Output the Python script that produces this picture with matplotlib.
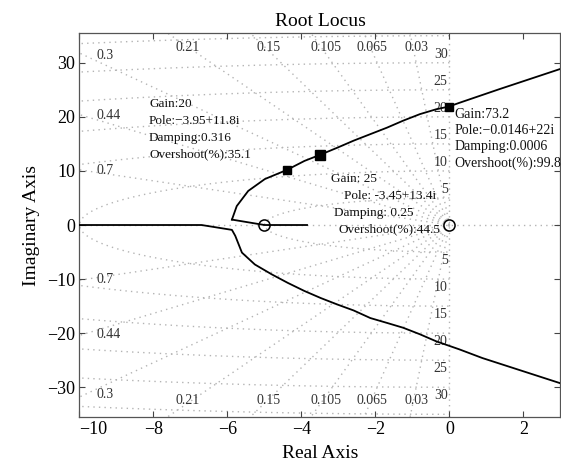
import numpy as np
import matplotlib
matplotlib.use("Agg")
import matplotlib.pyplot as plt
import matplotlib.transforms as mtransforms

plt.rcParams["font.family"] = ["Liberation Serif", "DejaVu Serif"]

# ===================== ROOT LOCUS BRANCHES =====================
# left real-axis part joined to the lower branch
LOWER_RE = [-10.0, -6.7, -5.88, -5.79, -5.61, -5.26, -4.81, -4.37, -3.92, -3.48,
            -3.03, -2.59, -2.14, -1.69, -1.25, -0.80, -0.36, 0.27, 0.89, 2.97]
LOWER_IM = [0.0, 0.0, -0.9, -2.0, -5.1, -7.3, -9.1, -10.7, -12.2, -13.5,
            -14.7, -15.8, -17.2, -18.1, -19.0, -20.2, -21.5, -23.0, -24.6, -29.2]

UPPER_RE = [-5.88, -5.75, -5.44, -4.99, -4.39, -3.92, -3.49, -3.03, -2.59, -2.14,
            -1.69, -1.25, -0.80, -0.36, -0.02, 0.27, 1.34, 2.97]
UPPER_IM = [1.0, 3.5, 6.3, 8.5, 10.2, 11.85, 13.0, 14.3, 15.6, 16.8,
            18.0, 19.3, 20.5, 21.4, 21.9, 22.6, 25.1, 28.8]

# short branch ending on the zero at -5
ZERO_SEG_RE = [-5.88, -5.0, -3.85]
ZERO_SEG_IM = [1.0, 0.0, 0.0]

ZEROS_RE = [-5.0, 0.0]
ZEROS_IM = [0.0, 0.0]

# ===================== DATA CURSORS =====================
CURSOR_RE = [-4.39, -3.49, -0.02]
CURSOR_IM = [10.2, 13.0, 21.9]
CURSOR_SIZE = [5.5, 7, 6]

TIP_20 = ["Gain:20", "Pole:\u22123.95+11.8i", "Damping:0.316", "Overshoot(%):35.1"]
TIP_25 = ["Gain: 25", "Pole: -3.45+13.4i", "Damping: 0.25", "Overshoot(%):44.5"]
TIP_73 = ["Gain:73.2", "Pole:\u22120.0146+22i", "Damping:0.0006", "Overshoot(%):99.8"]

# ===================== SGRID =====================
DAMPING = [0.03, 0.065, 0.105, 0.15, 0.21, 0.3, 0.44, 0.7]
TOP_LABELS = ["0.21", "0.15", "0.105", "0.065", "0.03"]
TOP_LABEL_X = [-7.09, -4.9, -3.34, -2.09, -0.89]
SIDE_LABELS = ["0.3", "0.44", "0.7"]
SIDE_LABEL_Y = [31.3, 20.2, 10.0]
WN = [5, 10, 15, 20, 25, 30, 35]
WN_LABELS = [5, 10, 15, 20, 25, 30]

GRID_KW = dict(color="#b4b4b4", linestyle=(0, (1, 3)), linewidth=1.0, zorder=1)


def draw_sgrid(ax):
    """Damping rays and natural-frequency circles in the left half plane."""
    R = 60
    for z in DAMPING:
        s = np.sqrt(1 - z ** 2)
        ax.plot([0, -z * R], [0, s * R], **GRID_KW)
        ax.plot([0, -z * R], [0, -s * R], **GRID_KW)

    th = np.linspace(np.pi / 2, 3 * np.pi / 2, 300)
    for w in WN:
        ax.plot(w * np.cos(th), w * np.sin(th), **GRID_KW)

    ax.axhline(0, **GRID_KW)
    ax.axvline(0, **GRID_KW)

    lab = dict(fontsize=10, color="#333333", zorder=2)
    for txt, x in zip(TOP_LABELS, TOP_LABEL_X):
        ax.text(x, 32.8, txt, ha="center", va="center", **lab)
        ax.text(x, -32.4, txt, ha="center", va="center", **lab)
    for txt, y in zip(SIDE_LABELS, SIDE_LABEL_Y):
        ax.text(-9.55, y, txt, ha="left", va="center", **lab)
        ax.text(-9.55, -y, txt, ha="left", va="center", **lab)
    for w in WN_LABELS:
        ax.text(-0.05, w + 0.3, str(w), ha="right", va="bottom", **lab)
        ax.text(-0.05, -w - 0.3, str(w), ha="right", va="top", **lab)


def draw_tip(ax, lines, xs, ys, size=9.5):
    for txt, x, y in zip(lines, xs, ys):
        ax.text(x, y, txt, ha="left", va="center", fontsize=size, color="#111111", zorder=5)


fig = plt.figure(figsize=(5.61, 4.65), dpi=100)
ax = fig.add_axes([0.1417, 0.1032, 0.8574, 0.8258])

draw_sgrid(ax)

# ===================== LOCUS =====================
ax.plot(LOWER_RE, LOWER_IM, color="black", linewidth=1.3, zorder=3)
ax.plot(UPPER_RE, UPPER_IM, color="black", linewidth=1.3, zorder=3)
ax.plot(ZERO_SEG_RE, ZERO_SEG_IM, color="black", linewidth=1.3, zorder=3)
ax.plot(ZEROS_RE, ZEROS_IM, linestyle="none", marker="o", markersize=8,
        markerfacecolor="none", markeredgecolor="black", markeredgewidth=1.1, zorder=4)
for x, y, s in zip(CURSOR_RE, CURSOR_IM, CURSOR_SIZE):
    ax.plot(x, y, marker="s", markersize=s, color="black", zorder=4)

draw_tip(ax, TIP_20, [-8.12] * 4, [22.4, 19.3, 16.1, 13.1])
draw_tip(ax, TIP_25, [-3.21, -2.86, -3.13, -2.99], [8.5, 5.4, 2.2, -0.7])
draw_tip(ax, TIP_73, [0.13] * 4, [20.5, 17.5, 14.5, 11.5], size=10)

# ===================== AXES =====================
ax.set_xlim(-10, 3)
ax.set_ylim(-35.5, 35.5)
ax.set_xticks([-10, -8, -6, -4, -2, 0, 2])
ax.set_yticks([-30, -20, -10, 0, 10, 20, 30])
ax.tick_params(direction="in", top=True, right=True, length=4, width=0.8,
               labelsize=13, pad=3, color="#444444")
for sp in ax.spines.values():
    sp.set_color("#555555")
    sp.set_linewidth(0.9)

# the first x label sits a little to the right of its tick in the original
first = ax.get_xticklabels()[0]
first.set_transform(first.get_transform()
                    + mtransforms.ScaledTranslation(10 / 72, 0, fig.dpi_scale_trans))

ax.set_title("Root Locus", fontsize=14, pad=5)
ax.set_xlabel("Real Axis", fontsize=14, labelpad=5)
ax.set_ylabel("Imaginary Axis", fontsize=14, labelpad=5)

plt.savefig("out.png", dpi=100)
